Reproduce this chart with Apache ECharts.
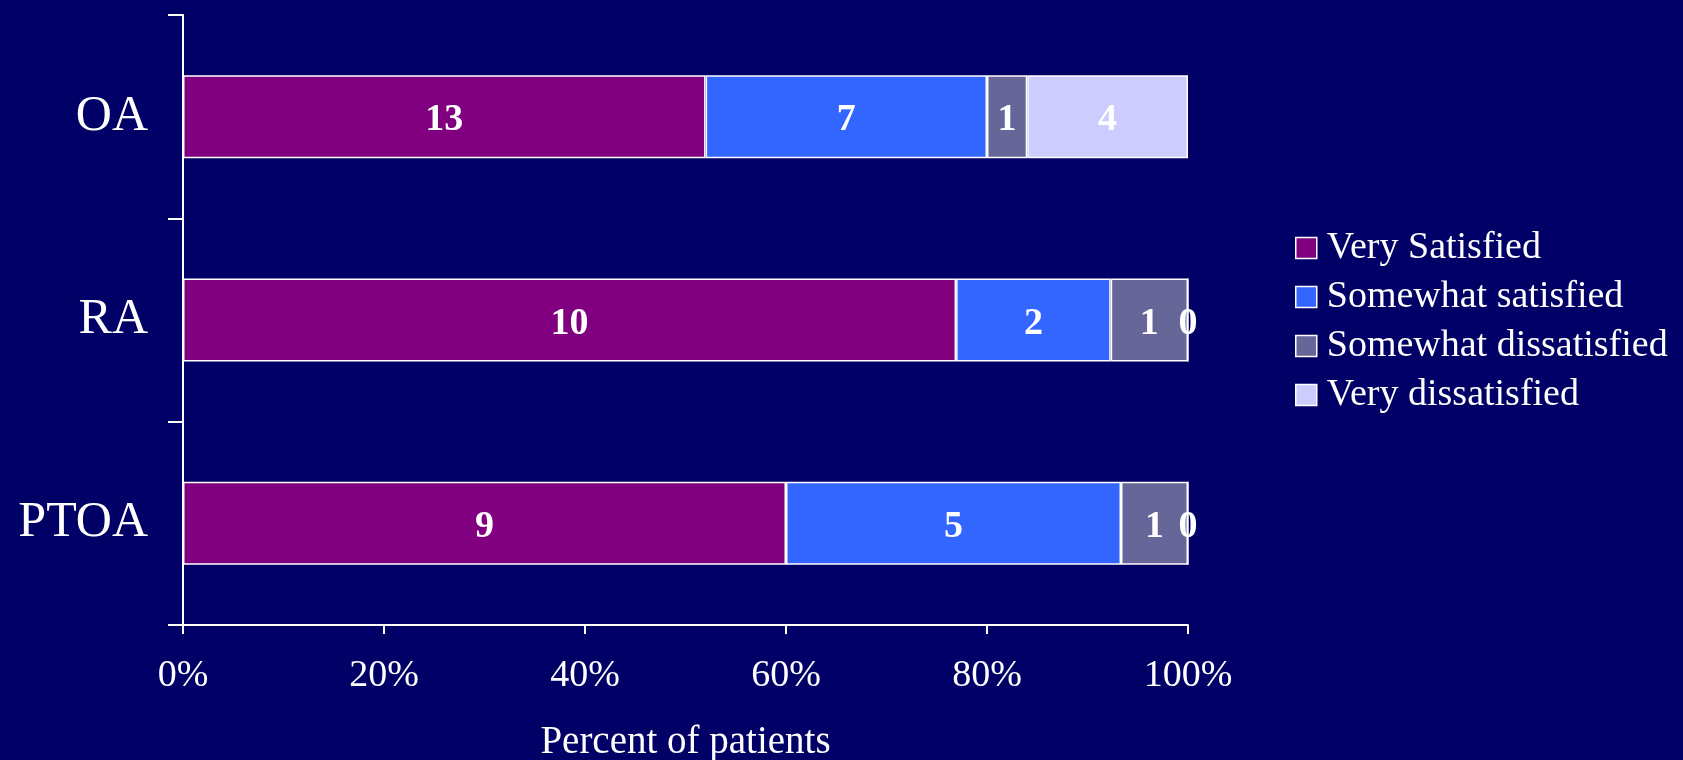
<!DOCTYPE html>
<html>
<head>
<meta charset="utf-8">
<script src="https://cdn.jsdelivr.net/npm/echarts@6/dist/echarts.min.js"></script>
<style>
  html, body { margin: 0; padding: 0; background: #000066; }
  #chart { width: 1683px; height: 760px; }
</style>
</head>
<body>
<div id="chart"></div>
<script>
// groups, top to bottom
const groups = ['OA', 'RA', 'PTOA']
const levels = ['Very Satisfied', 'Somewhat satisfied', 'Somewhat dissatisfied', 'Very dissatisfied']
// patient counts per group (OA, RA, PTOA)
const verySatisfied = [13, 10, 9]
const somewhatSatisfied = [7, 2, 5]
const somewhatDissatisfied = [1, 1, 1]
const veryDissatisfied = [4, 0, 0]
const xTicks = [0, 20, 40, 60, 80, 100]

const colors = ['#800080', '#3366ff', '#666699', '#ccccff']
const counts = [verySatisfied, somewhatSatisfied, somewhatDissatisfied, veryDissatisfied]
const totals = groups.map((g, i) => counts.reduce((s, arr) => s + arr[i], 0))

const font = '"Liberation Serif", "Times New Roman", serif'

const chart = echarts.init(document.getElementById('chart'))
chart.setOption({
  backgroundColor: '#000066',
  animation: false,
  textStyle: { fontFamily: font },
  grid: { left: 183, top: 15, width: 1005, height: 610, outerBoundsMode: 'none', containLabel: false },
  legend: {
    orient: 'vertical',
    left: 1290,
    top: 224,
    itemWidth: 21,
    itemHeight: 21,
    itemGap: 11,
    icon: 'rect',
    itemStyle: { borderColor: '#ffffff', borderWidth: 1.5 },
    textStyle: { color: '#ffffff', fontSize: 38, fontFamily: font, lineHeight: 35, padding: [0, 0, 0, 5] },
    data: levels
  },
  xAxis: {
    type: 'value',
    min: 0,
    max: 100,
    interval: 20,
    name: 'Percent of patients',
    nameLocation: 'middle',
    nameGap: 98,
    nameTextStyle: { color: '#ffffff', fontSize: 39, fontFamily: font },
    axisLine: { show: true, lineStyle: { color: '#ffffff', width: 2 } },
    axisTick: { show: true, length: 9, lineStyle: { color: '#ffffff', width: 2 } },
    splitLine: { show: false },
    axisLabel: {
      color: '#ffffff', fontSize: 38, fontFamily: font, margin: 32,
      formatter: v => xTicks.includes(v) ? v + '%' : ''
    }
  },
  yAxis: {
    type: 'category',
    inverse: true,
    data: groups,
    axisLine: { show: true, lineStyle: { color: '#ffffff', width: 2 } },
    axisTick: { show: true, length: 15, lineStyle: { color: '#ffffff', width: 2 } },
    axisLabel: { color: '#ffffff', fontSize: 50, fontFamily: font, margin: 35 }
  },
  series: levels.map((name, k) => ({
    name: name,
    type: 'bar',
    stack: 'total',
    barWidth: 83,
    clip: false,
    itemStyle: { color: colors[k], borderColor: '#ffffff', borderWidth: 1.5 },
    label: {
      show: true,
      position: 'inside',
      color: '#ffffff',
      fontSize: 38,
      fontWeight: 'bold',
      fontFamily: font,
      offset: [0, 4],
      formatter: p => counts[k][p.dataIndex]
    },
    data: counts[k].map((v, i) => v / totals[i] * 100)
  }))
})
</script>
</body>
</html>
